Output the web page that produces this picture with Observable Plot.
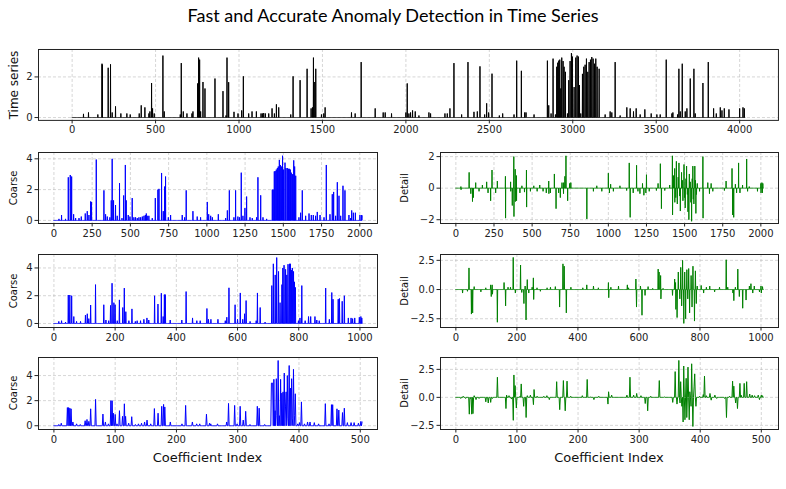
<!DOCTYPE html>
<html>
<head>
<meta charset="utf-8">
<script src="https://cdn.jsdelivr.net/npm/d3@7"></script>
<script src="https://cdn.jsdelivr.net/npm/@observablehq/plot@0.6"></script>
<style>
  body { margin: 0; background: #fff; }
  #fig { position: relative; width: 786px; height: 489px; overflow: hidden; font-family: "DejaVu Sans", sans-serif; background: #fff; }
  #fig svg { position: absolute; overflow: visible; }
  .lbl { position: absolute; white-space: nowrap; color: #111; line-height: 1; }
  .rot { transform: translate(-50%, -50%) rotate(-90deg); }
  .hor { transform: translate(-50%, -50%); }
</style>
</head>
<body>
<div id="fig"></div>
<script>
// ---- Series lengths (samples / coefficients per level) ----
const seriesLength = 4032;
const level1Length = 2016;
const level2Length = 1008;
const level3Length = 504;

// ---- Non-zero samples as [index, value]; everything else sits on the zero baseline ----
const seriesPeaks = [[68,.18],[98,.25],[154,.15],[179,2.65],[181,2.6],[216,2.45],[230,2.62],[240,.25],[260,.55],[292,.2],[328,.2],[348,.15],[402,.2],[414,.6],[436,.5],[460,.2],[466,.3],[476,1.7],[482,.45],[492,.2],[544,3.05],[552,.3],[648,.15],[654,2.68],[666,.3],[688,.2],[718,.2],[724,.3],[752,1.68],[758,2.95],[764,2.85],[770,.3],[784,1.75],[796,1.43],[856,1.92],[904,1.3],[922,.1],[928,2.95],[938,1.74],[970,.28],[994,.2],[1016,.35],[1026,2.03],[1058,.2],[1078,.3],[1104,.3],[1132,.2],[1140,.2],[1148,.22],[1158,.2],[1178,.2],[1198,.45],[1212,.2],[1224,.65],[1238,.5],[1310,.15],[1324,2.03],[1366,1.84],[1408,2.4],[1432,.45],[1440,.5],[1446,2.95],[1454,1.75],[1460,2.4],[1494,.15],[1508,.2],[1516,.5],[1674,.25],[1696,.2],[1732,2.73],[1816,.45],[1864,.25],[1876,.25],[1914,.2],[2000,.25],[2008,1.68],[2018,.2],[2028,.25],[2040,.35],[2056,.3],[2078,.1],[2138,.25],[2148,.2],[2234,.2],[2248,.2],[2264,.45],[2288,2.68],[2334,.15],[2372,2.73],[2408,.28],[2428,.3],[2444,2.52],[2472,.15],[2484,.7],[2496,.25],[2516,2.16],[2560,.1],[2580,.2],[2648,.15],[2664,2.8],[2692,2.3],[2712,.25],[2720,.25],[2768,.15],[2848,2.8],[2856,.6],[2870,.2],[2882,2.9],[2896,.15],[2904,2.5],[2910,2.7],[2916,2.8],[2922,2.85],[2928,1.43],[2934,2.95],[2942,2.78],[2948,2.5],[2956,2.25],[2968,.2],[2976,1.84],[2984,2.78],[2992,3.17],[2998,3.0],[3008,1.5],[3018,2.95],[3026,3.05],[3034,3.0],[3040,1.6],[3048,.2],[3058,2.15],[3066,2.5],[3074,2.6],[3082,2.9],[3090,2.25],[3098,2.73],[3106,2.85],[3114,2.98],[3122,2.9],[3130,2.65],[3138,2.9],[3146,2.5],[3158,2.4],[3194,.15],[3224,.3],[3234,.25],[3254,2.73],[3284,.1],[3324,.5],[3344,.45],[3364,.3],[3380,.45],[3404,.15],[3432,.4],[3470,.2],[3504,.15],[3524,.15],[3560,2.85],[3594,.2],[3600,.25],[3628,.15],[3636,2.4],[3644,.3],[3656,2.65],[3674,.3],[3684,.45],[3704,1.92],[3726,2.4],[3734,.2],[3780,1.7],[3812,2.73],[3844,.45],[3860,.2],[3884,.5],[3894,.35],[3908,.45],[3936,.4],[4000,.45],[4020,.5],[4028,.45]];

const coarse1Peaks = [[33,.1],[50,.35],[76,.1],[94,2.8],[107,2.95],[116,2.85],[129,.4],[142,.15],[164,.15],[179,.25],[205,.45],[218,.6],[229,.35],[240,1.23],[246,1.2],[277,3.95],[327,1.95],[338,.4],[349,.25],[366,.2],[375,1.3],[381,4.0],[390,1.3],[403,1.0],[414,.3],[429,2.42],[445,.15],[456,1.62],[467,3.6],[473,1.3],[486,.35],[497,.25],[512,1.45],[523,.2],[534,.2],[545,.15],[556,.2],[567,.2],[578,.25],[589,.3],[598,.35],[604,.45],[610,.3],[621,.3],[643,.15],[663,1.45],[680,2.0],[687,2.05],[704,3.08],[715,.6],[724,2.2],[730,2.85],[748,.2],[763,.35],[839,.35],[855,.2],[865,1.95],[909,.6],[937,.25],[959,.2],[1003,1.2],[1012,.4],[1025,.3],[1036,.2],[1075,.4],[1123,.15],[1134,.65],[1147,1.95],[1177,.2],[1188,1.95],[1203,.25],[1214,.2],[1225,3.1],[1236,.3],[1249,.8],[1260,1.55],[1282,.2],[1297,.15],[1325,.2],[1334,2.8],[1352,1.63],[1367,.2],[1391,.1],[1428,2.0],[1434,2.0],[1441,3.18],[1447,3.2],[1454,3.3],[1461,3.4],[1467,3.5],[1474,3.93],[1480,3.6],[1487,3.5],[1495,4.2],[1502,3.3],[1511,3.75],[1517,3.4],[1526,3.4],[1533,3.35],[1539,3.35],[1546,3.3],[1552,3.1],[1561,3.0],[1568,3.9],[1574,3.5],[1581,2.9],[1602,.2],[1613,.5],[1624,1.95],[1646,.3],[1668,.45],[1683,.35],[1696,.35],[1711,.3],[1722,.55],[1740,.35],[1766,.2],[1781,3.6],[1805,.4],[1820,1.7],[1829,1.85],[1842,.3],[1853,2.48],[1864,1.6],[1875,.3],[1890,2.25],[1903,1.95],[1929,.35],[1940,.15],[1947,.65],[1958,.5],[1971,.5],[2001,.35],[2012,.35],[2015,.3]];

const detail1Peaks = [[33,.1],[34,-.1],[87,1.0],[98,-.35],[109,-.85],[115,-.6],[130,.35],[152,-.2],[174,.2],[202,.4],[211,-.3],[228,-.8],[237,1.15],[261,-.3],[272,.45],[325,.75],[326,-1.9],[359,.4],[360,-.2],[370,-1.1],[380,2.0],[381,-1.8],[389,1.2],[390,-.85],[397,.8],[398,-.8],[420,-.3],[433,.15],[450,-.25],[463,1.15],[464,-1.2],[489,-.2],[511,.15],[533,-.2],[550,.2],[572,-.2],[593,-.3],[609,.45],[610,-.35],[620,-.3],[646,.9],[657,-1.3],[674,-.3],[685,-.6],[696,.35],[706,-.35],[707,.35],[715,.75],[722,2.05],[733,-.8],[746,.3],[754,.35],[859,-1.95],[902,-.2],[924,.15],[957,-.2],[1000,.95],[1007,-.3],[1015,.25],[1033,-.2],[1076,.15],[1120,-.15],[1137,1.6],[1143,-1.85],[1163,-.3],[1185,1.45],[1194,-.2],[1207,-.35],[1224,.3],[1233,-.45],[1246,-.3],[1250,.85],[1268,-.2],[1315,-.15],[1326,.3],[1341,1.55],[1348,-1.3],[1370,-.15],[1402,.2],[1420,2.05],[1421,-1.7],[1428,.8],[1435,1.25],[1436,-.9],[1442,-.6],[1446,1.7],[1452,-1.0],[1458,.7],[1463,1.6],[1468,-.5],[1472,-1.45],[1480,1.0],[1485,.5],[1489,-.8],[1496,1.5],[1500,-.6],[1504,-1.25],[1509,.6],[1513,1.4],[1518,-.4],[1522,-1.5],[1528,-2.0],[1531,.9],[1537,.4],[1541,-.9],[1546,-2.1],[1550,.6],[1554,1.4],[1557,-.7],[1561,-1.0],[1567,1.4],[1571,.5],[1574,-1.6],[1578,-.4],[1583,.3],[1598,-.2],[1620,2.0],[1621,-1.9],[1652,.35],[1663,-.35],[1674,.3],[1685,-.2],[1761,-.15],[1772,.45],[1811,1.25],[1815,-1.7],[1822,-1.85],[1833,.25],[1841,-.3],[1854,1.6],[1863,-.3],[1880,.2],[1907,1.85],[1913,-.2],[1924,.1],[1978,-.2],[2000,.3],[2001,-.3],[2007,.35],[2010,-.3],[2013,.3]];

const coarse2Peaks = [[16,.15],[25,.2],[38,.1],[47,2.05],[52,2.05],[58,2.0],[65,.5],[74,.15],[87,.15],[103,.6],[109,.7],[114,.35],[120,1.33],[136,2.8],[163,1.35],[170,.25],[179,.2],[185,1.3],[190,2.9],[196,1.5],[200,1.35],[207,.2],[214,1.7],[225,1.15],[230,2.55],[235,.85],[245,.2],[255,1.05],[266,.15],[272,.2],[283,.2],[294,.3],[304,.4],[310,.25],[329,2.0],[340,1.4],[351,2.18],[357,.5],[361,2.08],[364,2.08],[380,.25],[418,.25],[432,2.3],[453,.4],[467,.2],[478,.2],[500,1.08],[505,.3],[513,.3],[536,.3],[560,.2],[565,.45],[572,2.57],[592,1.35],[600,.3],[609,2.2],[617,.3],[623,.7],[628,1.65],[641,.15],[661,.2],[665,2.2],[674,1.15],[690,.1],[712,2.73],[717,4.3],[723,3.5],[728,4.75],[734,3.75],[739,1.5],[745,2.8],[748,4.0],[752,4.2],[757,3.9],[761,3.5],[765,4.27],[770,4.3],[773,4.3],[776,3.85],[779,4.0],[783,3.75],[786,3.0],[789,2.6],[799,.2],[804,.4],[810,2.73],[821,.2],[832,.5],[839,.5],[853,.5],[859,.25],[867,.2],[888,2.55],[900,.3],[908,2.23],[912,1.75],[929,1.75],[933,1.8],[942,1.6],[949,2.0],[962,.4],[971,.4],[976,.35],[983,.4],[998,.45],[1003,.5],[1006,.4]];

const detail2Peaks = [[22,-.3],[38,-.15],[43,1.85],[51,-2.1],[55,-2.0],[60,.25],[82,-.2],[98,.15],[114,.4],[116,-.6],[119,.4],[120,-.4],[136,-2.8],[158,.6],[163,-1.4],[171,.2],[179,.2],[188,2.75],[195,-.3],[212,2.1],[216,-.25],[223,-1.2],[227,.3],[230,-2.6],[234,.85],[239,-.3],[250,.2],[254,1.0],[255,-.85],[266,.15],[277,-.15],[299,.15],[310,.2],[326,.25],[340,-1.5],[351,2.2],[355,2.0],[362,-2.0],[377,.2],[416,.15],[429,.4],[451,.3],[467,.15],[500,.6],[501,-.7],[508,.2],[533,.3],[562,.4],[566,.15],[590,.9],[592,-1.5],[605,.3],[610,-2.2],[620,-.5],[630,.25],[645,.1],[663,1.75],[666,1.5],[671,1.2],[672,-.8],[679,.1],[710,-.5],[717,.9],[720,.6],[721,-1.7],[725,-2.4],[729,1.5],[734,-.8],[737,1.9],[740,-1.4],[743,2.5],[747,-2.9],[750,1.5],[753,-2.5],[757,1.7],[760,-.8],[763,1.8],[766,-2.0],[771,1.2],[774,-1.5],[777,2.0],[782,-2.7],[785,1.6],[788,-1.2],[791,.3],[804,.35],[812,-.3],[821,.2],[832,.3],[848,-.2],[864,.2],[886,2.55],[891,.2],[908,-.3],[911,-.95],[916,.2],[924,1.75],[929,-.6],[940,-1.6],[951,-.9],[962,.3],[967,.5],[973,-.3],[978,.3],[995,-.2],[1000,.3],[1001,-.3],[1005,.25]];

const coarse3Peaks = [[8,.1],[12,.2],[22,1.45],[24,1.45],[26,1.4],[28,1.35],[31,.3],[37,.15],[43,.1],[51,.4],[54,.5],[57,.35],[60,1.35],[68,2.1],[80,.93],[84,.3],[89,.15],[93,2.0],[95,2.0],[97,1.0],[100,.9],[103,.15],[107,1.2],[112,.75],[115,1.75],[117,.75],[122,.2],[127,.72],[133,.1],[138,.15],[143,.2],[148,.3],[152,.45],[158,.15],[164,1.37],[170,1.0],[176,1.55],[179,1.7],[181,1.5],[190,.3],[209,.15],[215,1.62],[226,.3],[233,.15],[238,.15],[249,.92],[254,.2],[256,.15],[267,.15],[282,.3],[285,1.78],[295,1.62],[299,.15],[304,1.55],[309,.45],[313,1.15],[320,.1],[332,1.55],[335,1.4],[344,.1],[355,3.4],[356,3.4],[357,3.4],[359,3.7],[361,1.2],[363,3.75],[364,.8],[366,5.2],[368,.8],[370,3.7],[372,2.6],[374,2.7],[376,4.2],[378,1.5],[379,2.7],[381,4.0],[382,.6],[384,4.8],[386,3.0],[388,3.75],[389,.6],[391,4.5],[393,.8],[394,2.55],[398,.15],[401,.25],[404,1.9],[409,.15],[414,.3],[418,.3],[425,.25],[432,.15],[443,1.76],[449,.15],[453,1.68],[455,1.68],[462,1.35],[465,1.25],[471,1.05],[474,1.4],[479,.25],[485,.25],[490,.25],[497,.2],[501,.35],[503,.3]];

const detail3Peaks = [[8,-.1],[12,.1],[16,-.1],[22,-1.5],[24,-.1],[26,-1.5],[28,-1.45],[30,.15],[33,-.2],[38,-.1],[49,-.4],[53,-.5],[57,-.45],[60,-.1],[68,1.8],[82,-1.0],[83,.2],[87,.15],[91,-.15],[94,-2.05],[95,2.0],[97,1.05],[99,-.95],[105,.1],[107,1.2],[111,-.8],[115,-1.8],[117,.15],[122,.2],[127,-.65],[128,.7],[133,.1],[144,.1],[149,.15],[153,-.2],[165,1.4],[170,-1.1],[176,1.5],[179,-1.2],[182,1.45],[188,.1],[207,.15],[215,1.6],[221,.05],[226,-.2],[234,.1],[249,-.6],[250,.5],[255,.2],[280,.2],[285,1.8],[291,.2],[296,.35],[303,.15],[310,-.55],[314,-1.2],[319,.1],[333,1.5],[342,.05],[355,-.45],[359,2.3],[362,-.6],[365,3.3],[367,-.5],[368,1.4],[370,-.8],[372,-2.2],[373,2.8],[375,-2.0],[377,1.7],[378,-1.8],[380,2.7],[382,-2.0],[383,.5],[385,-.8],[386,3.0],[388,-2.6],[390,1.0],[391,2.1],[393,-.8],[399,.1],[405,.25],[407,1.9],[410,.15],[416,.35],[418,-.25],[424,.2],[427,-.1],[440,-.1],[443,-1.8],[448,.1],[453,1.45],[455,1.0],[458,-.5],[461,-1.0],[465,1.25],[467,.2],[472,1.25],[476,1.4],[481,.3],[485,.2],[489,.15],[495,.2],[497,-.2],[500,.2],[502,.15]];

// ---- Tick values ----
const seriesTicksX = [0, 500, 1000, 1500, 2000, 2500, 3000, 3500, 4000];
const seriesTicksY = [0, 2];
const level1TicksX = [0, 250, 500, 750, 1000, 1250, 1500, 1750, 2000];
const level2TicksX = [0, 200, 400, 600, 800, 1000];
const level3TicksX = [0, 100, 200, 300, 400, 500];
const coarseTicksY = [0, 2, 4];
const detail1TicksY = [-2, 0, 2];
const detail23TicksY = [-2.5, 0, 2.5];

// ---- Text ----
const titleText = "Fast and Accurate Anomaly Detection in Time Series";
const xLabelText = "Coefficient Index";

const fig = document.getElementById("fig");

// Dense sample array: zero baseline with the listed values placed at their indices.
function toSamples(length, peaks) {
  const values = new Array(length).fill(0);
  for (const [i, v] of peaks) values[i] = v;
  return values.map((v, i) => ({i, v}));
}

function label(text, x, y, size, rotated) {
  const el = document.createElement("div");
  el.className = "lbl " + (rotated ? "rot" : "hor");
  el.textContent = text;
  el.style.left = x + "px";
  el.style.top = y + "px";
  el.style.fontSize = size + "px";
  fig.appendChild(el);
  return el;
}

// One axes panel; `frame` is the plotting rectangle in page pixels.
function panel({frame, length, peaks, color, xTicks, yTicks, yDomain, yFormat, ml}) {
  const [x0, y0, x1, y1] = frame;
  const m = {l: ml, r: 8, t: 6, b: 22};
  const pad = 0.05 * (length - 1);
  const chart = Plot.plot({
    width: x1 - x0 + m.l + m.r,
    height: y1 - y0 + m.t + m.b,
    marginLeft: m.l, marginRight: m.r, marginTop: m.t, marginBottom: m.b,
    style: {fontFamily: "DejaVu Sans, sans-serif", fontSize: "10px", color: "#222", background: "none"},
    x: {domain: [-pad, length - 1 + pad], label: null},
    y: {domain: yDomain, label: null},
    marks: [
      Plot.gridX(xTicks, {stroke: "#b0b0b0", strokeOpacity: 0.65, strokeDasharray: "3,2", strokeWidth: 0.8}),
      Plot.gridY(yTicks, {stroke: "#b0b0b0", strokeOpacity: 0.65, strokeDasharray: "3,2", strokeWidth: 0.8}),
      Plot.line(toSamples(length, peaks), {x: "i", y: "v", stroke: color, strokeWidth: 1}),
      Plot.frame({stroke: "#222", strokeWidth: 1}),
      Plot.axisX(xTicks, {tickSize: 3.5, tickPadding: 2.5, tickFormat: "d", label: null}),
      Plot.axisY(yTicks, {tickSize: 3.5, tickPadding: 2.5, tickFormat: yFormat, label: null})
    ]
  });
  chart.style.left = (x0 - m.l) + "px";
  chart.style.top = (y0 - m.t) + "px";
  fig.appendChild(chart);
}

// Title
const title = label(titleText, 393, 15, 18, false);
title.style.fontFamily = "Lato, sans-serif";
title.style.color = "#000";

// Original series
panel({frame: [38, 49, 779, 120], length: seriesLength, peaks: seriesPeaks, color: "#000",
       xTicks: seriesTicksX, yTicks: seriesTicksY, yDomain: [-0.14, 3.35], yFormat: "d", ml: 38});
label("Time series", 14, 84.5, 12, true);

// Level 1
panel({frame: [38, 152, 377, 223], length: level1Length, peaks: coarse1Peaks, color: "#0000ff",
       xTicks: level1TicksX, yTicks: coarseTicksY, yDomain: [-0.2, 4.41], yFormat: "d", ml: 38});
panel({frame: [440, 152, 778, 223], length: level1Length, peaks: detail1Peaks, color: "#008000",
       xTicks: level1TicksX, yTicks: detail1TicksY, yDomain: [-2.24, 2.26], yFormat: "d", ml: 40});
label("Coarse", 14, 187.5, 10, true);
label("Detail", 404.5, 187.5, 10, true);

// Level 2
panel({frame: [38, 254, 377, 327], length: level2Length, peaks: coarse2Peaks, color: "#0000ff",
       xTicks: level2TicksX, yTicks: coarseTicksY, yDomain: [-0.29, 4.97], yFormat: "d", ml: 38});
panel({frame: [440, 254, 778, 327], length: level2Length, peaks: detail2Peaks, color: "#008000",
       xTicks: level2TicksX, yTicks: detail23TicksY, yDomain: [-3.25, 3.0], yFormat: ".1f", ml: 40});
label("Coarse", 14, 290.5, 10, true);
label("Detail", 404.5, 290.5, 10, true);

// Level 3
panel({frame: [38, 357, 377, 429], length: level3Length, peaks: coarse3Peaks, color: "#0000ff",
       xTicks: level3TicksX, yTicks: coarseTicksY, yDomain: [-0.3, 5.44], yFormat: "d", ml: 38});
panel({frame: [440, 357, 778, 429], length: level3Length, peaks: detail3Peaks, color: "#008000",
       xTicks: level3TicksX, yTicks: detail23TicksY, yDomain: [-2.87, 3.56], yFormat: ".1f", ml: 40});
label("Coarse", 14, 393, 10, true);
label("Detail", 404.5, 393, 10, true);
label(xLabelText, 207.5, 457, 13, false);
label(xLabelText, 609, 457, 13, false);
</script>
</body>
</html>
